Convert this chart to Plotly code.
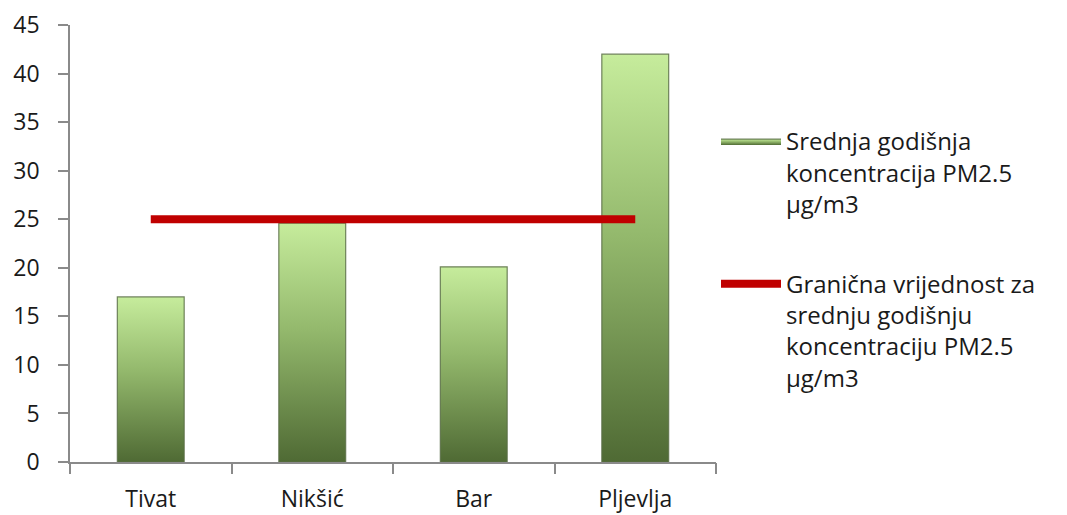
import plotly.graph_objects as go

categories = ["Tivat", "Nikšić", "Bar", "Pljevlja"]
pm25_values = [17.0, 24.6, 20.1, 42.0]
limit_values = [25, 25, 25, 25]
y_ticks = [0, 5, 10, 15, 20, 25, 30, 35, 40, 45]
bar_name = "Srednja godišnja<br>koncentracija PM2.5<br>µg/m3"
limit_name = "Granična vrijednost za<br>srednju godišnju<br>koncentraciju PM2.5<br>µg/m3"

FONT = "Open Sans"
TXT = "#1a1a1a"
AXIS = "#8a8a8a"
HALF = 0.207

fig = go.Figure()
for i, v in enumerate(pm25_values):
    fig.add_trace(go.Scatter(
        x=[i - HALF, i + HALF, i + HALF, i - HALF, i - HALF],
        y=[0, 0, v, v, 0],
        fill="toself", mode="lines",
        line=dict(color="rgba(90,110,70,0.85)", width=1.2),
        fillgradient=dict(type="vertical",
                          colorscale=[[0, "#4f6a34"], [0.55, "#93b86c"], [1, "#c6ec9c"]]),
        name=bar_name, legendgroup="bar", showlegend=(i == 0),
        hoverinfo="skip",
    ))

fig.add_trace(go.Scatter(
    x=list(range(len(categories))), y=limit_values, mode="lines",
    line=dict(color="#C00000", width=8),
    name=limit_name, legendgroup="limit",
))
fig.add_trace(go.Scatter(x=[None], y=[None], xaxis="x2", showlegend=False, hoverinfo="skip"))

fig.update_layout(
    width=1067, height=515,
    margin=dict(l=70, r=351, t=25, b=53, autoexpand=False),
    paper_bgcolor="white", plot_bgcolor="white",
    font=dict(family=FONT, size=22, color=TXT),
    legend=dict(x=1.0, y=0.785, xanchor="left", yanchor="top", valign="top",
                font=dict(family=FONT, size=24, color=TXT),
                itemwidth=60, tracegroupgap=46, bgcolor="rgba(0,0,0,0)"),
    xaxis=dict(range=[-0.5, len(categories) - 0.5], tickvals=list(range(len(categories))),
               ticktext=categories, ticks="", showline=True, linecolor=AXIS, linewidth=1.5,
               showgrid=False, zeroline=False, ticklabelstandoff=16, automargin=False,
               tickfont=dict(family=FONT, size=23, color=TXT)),
    xaxis2=dict(range=[-0.5, len(categories) - 0.5], overlaying="x", anchor="y", side="bottom",
                tickvals=[k - 0.5 for k in range(len(categories) + 1)], ticks="outside",
                ticklen=11, tickcolor=AXIS, tickwidth=1.5, showticklabels=False,
                showline=False, showgrid=False, zeroline=False, automargin=False),
    yaxis=dict(range=[0, 45], tickvals=y_ticks, ticks="outside", ticklen=10, tickcolor=AXIS,
               tickwidth=1.5, showline=True, linecolor=AXIS, linewidth=1.5, showgrid=False,
               zeroline=False, ticklabelstandoff=14, automargin=False,
               tickfont=dict(family=FONT, size=23, color=TXT)),
)

fig.write_html("out.html")
